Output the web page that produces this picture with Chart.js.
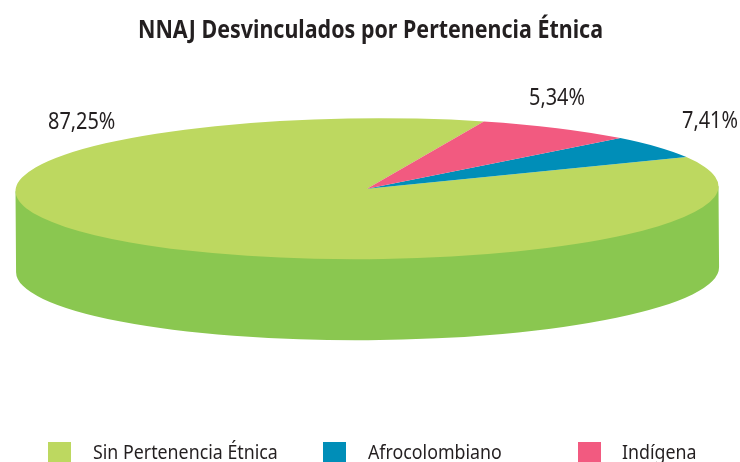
<!DOCTYPE html>
<html><head><meta charset="utf-8">
<style>html,body{margin:0;padding:0;background:#fff}#w{width:740px;height:462px}</style>
<script src="https://cdn.jsdelivr.net/npm/chart.js@4"></script></head>
<body><div id="w"><canvas id="c" width="740" height="462"></canvas></div>
<script>
const titleText = "NNAJ Desvinculados por Pertenencia Étnica";
const categories = ["Sin Pertenencia Étnica", "Afrocolombiano", "Indígena"];
const shares = [87.25, 5.34, 7.41];
const sliceLabels = ["87,25%", "5,34%", "7,41%"];
const sliceColors = ["#BDD860", "#008EB8", "#F25A80"];
const sideColor = "#8AC750";
const INK = "#231F20";
const FONT = "'Noto Sans', 'Open Sans', sans-serif";
const disc = {cx: 367, cy: 188.7, rx: 351.5, ry: 70.5, depth: 81, lean: -0.007};
const labelSpots = [{x: 48, y: 129}, {x: 529, y: 105}, {x: 682, y: 128}];
const legendSpots = [{box: 48, text: 93}, {box: 323, text: 368}, {box: 578, text: 622}];

function squeezed(ctx, text, x, y, squeeze) {
  ctx.save();
  ctx.translate(x, y);
  ctx.scale(squeeze, 1);
  ctx.fillText(text, 0, 0);
  ctx.restore();
}

const tilt = {
  id: 'tilt',
  beforeDatasetsDraw(chart) {
    const a = chart.getDatasetMeta(0).data[0];
    const R = a.outerRadius;
    const ctx = chart.ctx;
    ctx.save();
    ctx.translate(disc.cx, disc.cy);
    ctx.rotate(disc.lean);
    ctx.fillStyle = sideColor;
    ctx.beginPath();
    ctx.ellipse(0, disc.depth, disc.rx, disc.ry, 0, 0, Math.PI);
    ctx.lineTo(-disc.rx, 0);
    ctx.lineTo(disc.rx, 0);
    ctx.closePath();
    ctx.fill();
    ctx.scale(disc.rx / R, -disc.ry / R);
    ctx.translate(-a.x, -a.y);
  },
  afterDatasetsDraw(chart) {
    const ctx = chart.ctx;
    ctx.restore();
    ctx.save();
    ctx.fillStyle = INK;
    ctx.textBaseline = "alphabetic";
    ctx.textAlign = "left";
    ctx.font = "bold 25px " + FONT;
    const w = ctx.measureText(titleText).width;
    squeezed(ctx, titleText, 138, 38, 465 / w);
    ctx.font = "23px " + FONT;
    sliceLabels.forEach((t, i) => squeezed(ctx, t, labelSpots[i].x, labelSpots[i].y, 0.865));
    ctx.font = "20px " + FONT;
    categories.forEach((t, i) => {
      ctx.fillStyle = sliceColors[i];
      ctx.fillRect(legendSpots[i].box, 442, 23, 20);
      ctx.fillStyle = INK;
      squeezed(ctx, t, legendSpots[i].text, 459, 0.89);
    });
    ctx.restore();
  }
};

new Chart(document.getElementById('c'), {
  type: 'pie',
  data: {labels: categories, datasets: [{data: shares, backgroundColor: sliceColors, borderWidth: 0}]},
  options: {
    responsive: false, animation: false, rotation: 160.5,
    layout: {padding: {top: 50, bottom: 40}},
    plugins: {legend: {display: false}, tooltip: {enabled: false}, title: {display: false}}
  },
  plugins: [tilt]
});
</script></body></html>
